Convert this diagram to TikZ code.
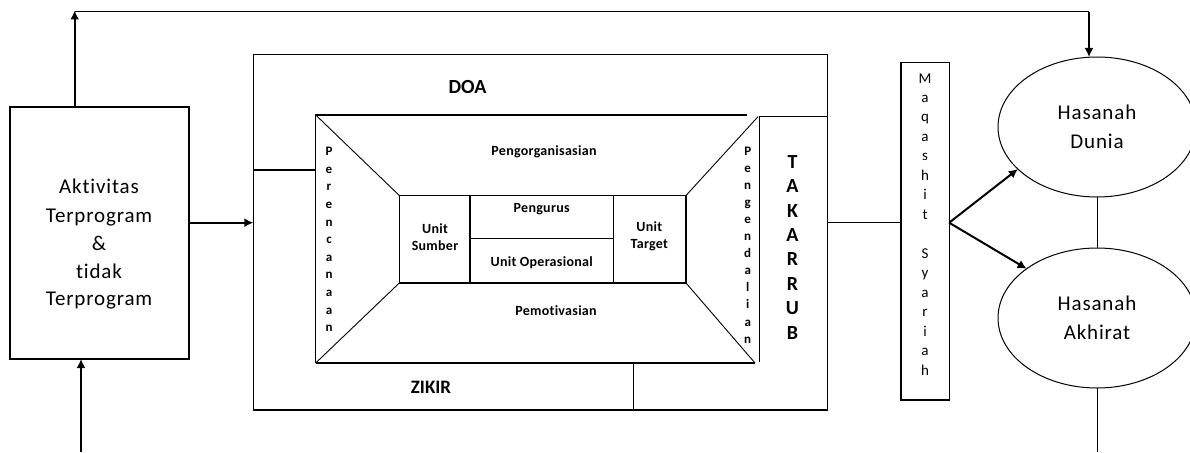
\documentclass[tikz,border=0pt]{standalone}
\usepackage{fontspec}
\setmainfont{Carlito}[Ligatures=NoCommon]
\usetikzlibrary{arrows.meta,shapes.geometric}
\begin{document}
\begin{tikzpicture}[x=1pt,y=-1pt,
  box/.style={draw, line width=1.3pt, inner sep=0pt, outer sep=0pt},
  ln/.style={line width=1.3pt},
  thinln/.style={line width=1pt},
  diag/.style={line width=0.9pt},
  arr/.style={line width=2.4pt, -{Latex[length=9pt,width=9pt]}},
  big/.style={font=\fontsize{21}{25}\selectfont\addfontfeature{LetterSpace=4}, anchor=base, inner sep=0pt},
  small/.style={font=\bfseries\fontsize{14}{17}\selectfont\addfontfeature{LetterSpace=2}, anchor=base, inner sep=0pt},
  head/.style={font=\bfseries\fontsize{20}{24}\selectfont, anchor=base, inner sep=0pt},
  vlet/.style={font=\bfseries\fontsize{13}{15}\selectfont, anchor=base, inner sep=0pt},
  mlet/.style={font=\fontsize{15}{17}\selectfont, anchor=base, inner sep=0pt},
  ell/.style={draw, ellipse, line width=1pt, inner sep=0pt, outer sep=0pt,
    minimum width=198pt, minimum height=140pt, align=center,
    font=\fontsize{21}{29}\selectfont\addfontfeature{LetterSpace=4}}]
\useasboundingbox (0,0) rectangle (1190,452);

% main boxes
\node[box, minimum width=179pt, minimum height=252pt] (akt) at (99.5,233) {};
\node[box, minimum width=574pt, minimum height=355.5pt] (outer) at (540.3,232.3) {};
\node[box, minimum width=48.3pt, minimum height=337.3pt] (maq) at (925,231.3) {};
\node[ell] (dunia) at (1097,127) {Hasanah\\Dunia};
\node[ell] (akhirat) at (1097,318) {Hasanah\\Akhirat};

% central boxes
\node[box, minimum width=70.7pt, minimum height=87.5pt] (sumber) at (434.65,239.25) {};
\node[box, minimum width=143.3pt, minimum height=43pt] (pengurus) at (541.65,217) {};
\node[box, minimum width=143.3pt, minimum height=44.5pt] (operasional) at (541.65,260.75) {};
\node[box, minimum width=72.7pt, minimum height=87.5pt] (target) at (649.65,239.25) {};

% inner frame
\coordinate (iTL) at (315.7,115);
\coordinate (iBL) at (315.7,363);
\coordinate (iTR) at (747,115);
\coordinate (tTop) at (759.3,116.7);
\coordinate (tBot) at (759.3,362);
\coordinate (iBR) at (755,363);
\coordinate (dv) at (633.3,363);
\coordinate (dTR) at (758,116.7);
\draw[ln] (iBL) -- (iTL) -- (iTR);
\draw[ln] (iBL) -- (iBR);
\draw[ln] (tBot) -- (tTop) -- (outer.east |- tTop);
\draw[ln] (dv) -- (dv |- outer.south);
\draw[diag] (iTL) -- (sumber.north west);
\draw[diag] (iBL) -- (sumber.south west);
\draw[diag] (dTR) -- (target.north east);
\draw[diag] (iBR) -- (target.south east);

% connectors
\coordinate (y170) at (0,170);
\coordinate (ymid) at (0,222.7);
\draw[ln] (outer.west |- y170) -- (iTL |- y170);
\draw[arr] (akt.east |- ymid) -- (outer.west |- ymid);
\draw[ln] (outer.east |- ymid) -- (maq.west |- ymid);
\draw[arr, line width=2pt] (maq.east |- ymid) -- (dunia.208);
\draw[arr, line width=2pt] (maq.east |- ymid) -- (akhirat.145);
\draw[thinln] (dunia.south) -- (akhirat.north);
\coordinate (endR) at (1097,452);
\draw[thinln] (akhirat.south) -- (endR);
\coordinate (topL) at (74.7,10.5);
\coordinate (topR) at (1089,11.7);
\draw[arr] (akt.north -| topL) -- (topL);
\draw[ln] (topL |- topR) -- (topR);
\draw[arr, line width=2pt] (topR) -- (topR |- dunia.north);
\coordinate (botL) at (81,452);
\draw[arr] (botL) -- (botL |- akt.south);

% texts left box
\node[big] (t1) at (99,193) {Aktivitas};
\node[big] (t2) at (99,222) {Terprogram};
\node[big] (t3) at (99,250) {\&};
\node[big] (t4) at (99,278) {tidak};
\node[big] (t5) at (99,305.5) {Terprogram};

% headings
\node[head] (doa) at (467.5,93.3) {DOA};
\node[head, font=\bfseries\fontsize{19}{23}\selectfont] (zikir) at (431,393.3) {ZIKIR};

% small labels
\node[small] (porg) at (544,155) {Pengorganisasian};
\node[small] (pmot) at (556,315) {Pemotivasian};
\node[small] (lpeng) at (541.7,212.3) {Pengurus};
\node[small] (lop) at (541.7,266) {Unit Operasional};
\node[small] (ls1) at (435,233.3) {Unit};
\node[small] (ls2) at (435,250) {Sumber};
\node[small] (lt1) at (649.3,231.7) {Unit};
\node[small] (lt2) at (649.3,248.3) {Target};

% vertical words
\foreach \l [count=\i from 0] in {P,e,r,e,n,c,a,n,a,a,n}
  \node[vlet] (per\i) at (329,{155.7+\i*17.6}) {\l};
\foreach \l [count=\i from 0] in {P,e,n,g,e,n,d,a,l,i,a,n}
  \node[vlet] (pen\i) at (747.7,{155+\i*17.1}) {\l};
\foreach \l [count=\i from 0] in {T,A,K,A,R,R,U,B}
  \node[head] (tak\i) at (792.5,{168.2+\i*24.44}) {\l};
\foreach \l [count=\i from 0] in {M,a,q,a,s,h,i,t}
  \node[mlet] (mq\i) at (925,{83+\i*19.47}) {\l};
\foreach \l [count=\i from 9] in {S,y,a,r,i,a,h}
  \node[mlet] (sy\i) at (925,{83+\i*19.47}) {\l};
\end{tikzpicture}
\end{document}
